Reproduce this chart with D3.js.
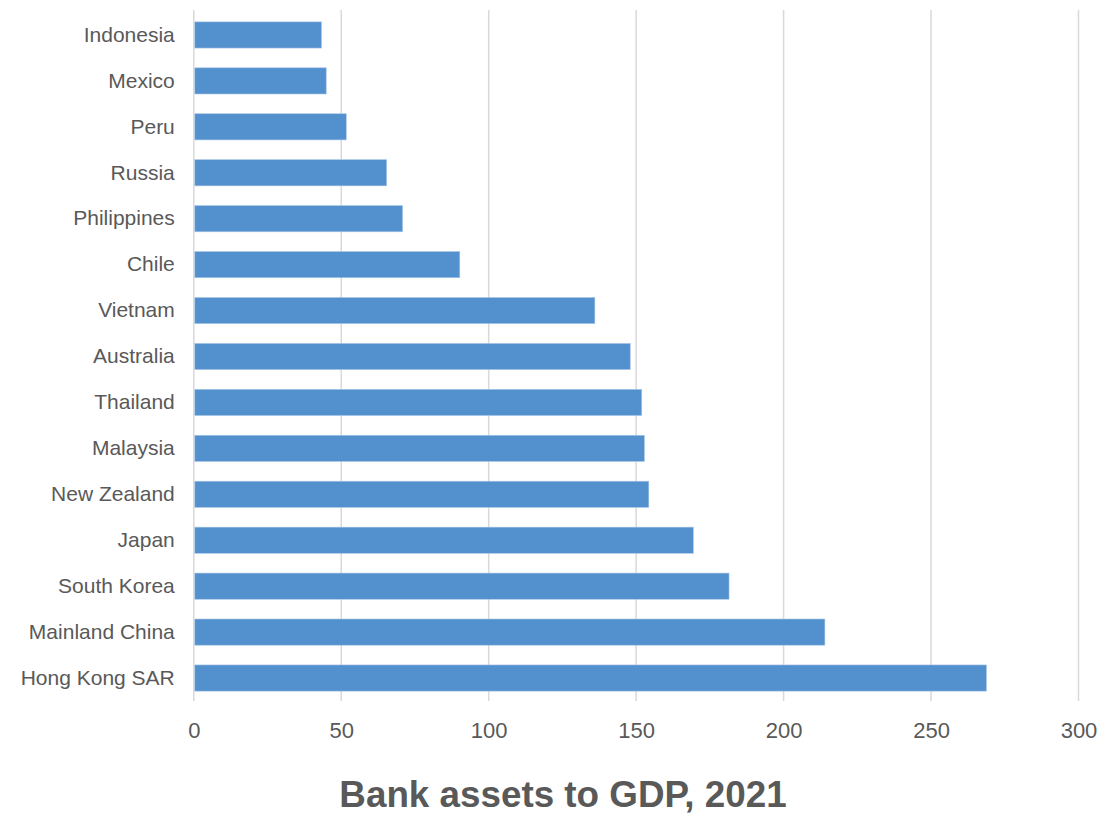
<!DOCTYPE html>
<html>
<head>
<meta charset="utf-8">
<script src="https://cdn.jsdelivr.net/npm/d3@7"></script>
<style>
  body { margin: 0; background: #fff; }
  text { font-family: "Liberation Sans", Arial, sans-serif; fill: #595959; }
</style>
</head>
<body>
<div id="chart"></div>
<script>
// data, top to bottom
var countries = ["Indonesia", "Mexico", "Peru", "Russia", "Philippines", "Chile", "Vietnam",
  "Australia", "Thailand", "Malaysia", "New Zealand", "Japan", "South Korea",
  "Mainland China", "Hong Kong SAR"];
var assetsToGdp = [43.3, 44.9, 51.7, 65.4, 70.8, 90.2, 136.0, 148.0, 151.9, 152.8,
  154.3, 169.4, 181.5, 214.0, 268.8];
var xTicks = [0, 50, 100, 150, 200, 250, 300];
var chartTitle = "Bank assets to GDP, 2021";

var width = 1115, height = 822;
var margin = {top: 12, right: 36.5, bottom: 121, left: 193.8};
var innerW = width - margin.left - margin.right;
var innerH = height - margin.top - margin.bottom;

var svg = d3.select("#chart").append("svg")
  .attr("width", width)
  .attr("height", height);

var g = svg.append("g")
  .attr("transform", "translate(" + margin.left + "," + margin.top + ")");

var x = d3.scaleLinear().domain([0, 300]).range([0, innerW]);
var y = d3.scaleBand().domain(countries).range([0, innerH]).paddingInner(0.43).paddingOuter(0.215);

// vertical gridlines
g.selectAll(".grid")
  .data(xTicks)
  .enter().append("line")
  .attr("class", "grid")
  .attr("x1", function (d) { return x(d); })
  .attr("x2", function (d) { return x(d); })
  .attr("y1", -2)
  .attr("y2", innerH)
  .attr("stroke", "#d9d9d9")
  .attr("stroke-width", 1.5);

// bars
g.selectAll(".bar")
  .data(countries)
  .enter().append("rect")
  .attr("class", "bar")
  .attr("x", x(0) + 1)
  .attr("y", function (d) { return y(d); })
  .attr("width", function (d, i) { return x(assetsToGdp[i]) - x(0) - 1; })
  .attr("height", y.bandwidth())
  .attr("fill", "#5390ce")
  .attr("stroke", "#a9c7e7")
  .attr("stroke-width", 0.6);

// x axis labels
var xAxis = d3.axisBottom(x).tickValues(xTicks).tickSize(0).tickPadding(21);
var xg = g.append("g")
  .attr("transform", "translate(0," + innerH + ")")
  .call(xAxis);
xg.select(".domain").remove();
xg.selectAll("text")
  .style("font-size", "22px")
  .style("font-family", "Liberation Sans, Arial, sans-serif")
  .attr("fill", "#595959");

// y axis labels
var yAxis = d3.axisLeft(y).tickSize(0).tickPadding(19);
var yg = g.append("g").call(yAxis);
yg.select(".domain").remove();
yg.selectAll("text")
  .style("font-size", "21px")
  .style("font-family", "Liberation Sans, Arial, sans-serif")
  .attr("fill", "#595959");

// title
svg.append("text")
  .attr("x", 563)
  .attr("y", 807)
  .attr("text-anchor", "middle")
  .style("font-size", "36.8px")
  .style("font-weight", "bold")
  .text(chartTitle);
</script>
</body>
</html>
